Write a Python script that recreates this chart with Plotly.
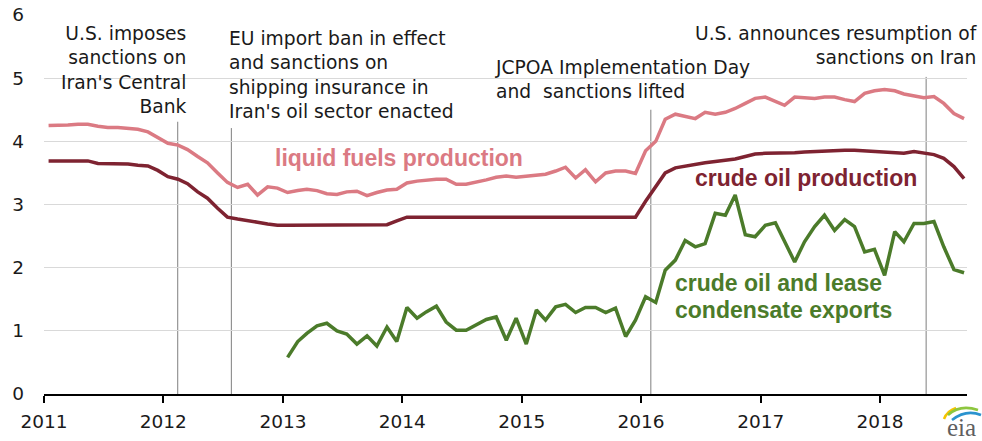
import plotly.graph_objects as go

# ---- data (million barrels per day), monthly Jan 2011 - Sep 2018 ----
year_ticks = [2011, 2012, 2013, 2014, 2015, 2016, 2017, 2018]

liquid_fuels = [
    4.25, 4.25, 4.26, 4.27, 4.27, 4.24, 4.22, 4.22, 4.21, 4.19, 4.15, 4.06,  # 2011
    3.97, 3.94, 3.87, 3.76, 3.66, 3.50, 3.35, 3.27, 3.32, 3.15, 3.28, 3.26,  # 2012
    3.19, 3.22, 3.24, 3.22, 3.17, 3.16, 3.20, 3.21, 3.14, 3.19, 3.23, 3.24,  # 2013
    3.34, 3.37, 3.39, 3.40, 3.40, 3.32, 3.32, 3.35, 3.39, 3.43, 3.45, 3.43,  # 2014
    3.45, 3.46, 3.48, 3.53, 3.59, 3.42, 3.55, 3.36, 3.50, 3.53, 3.53, 3.49,  # 2015
    3.85, 4.00, 4.35, 4.43, 4.39, 4.36, 4.46, 4.43, 4.46, 4.52, 4.60, 4.68,  # 2016
    4.70, 4.63, 4.57, 4.70, 4.69, 4.68, 4.70, 4.70, 4.66, 4.63, 4.76, 4.80,  # 2017
    4.82, 4.80, 4.75, 4.72, 4.69, 4.71, 4.60, 4.44, 4.36,                    # 2018
]

crude_production = [
    3.69, 3.69, 3.69, 3.69, 3.69, 3.65, 3.65, 3.65, 3.64, 3.62, 3.61, 3.54,  # 2011
    3.44, 3.40, 3.33, 3.20, 3.10, 2.94, 2.80, 2.77, 2.75, 2.72, 2.69, 2.67,  # 2012
    2.67, 2.67, 2.67, 2.67, 2.67, 2.67, 2.67, 2.67, 2.67, 2.67, 2.68, 2.74,  # 2013
    2.80, 2.80, 2.80, 2.80, 2.80, 2.80, 2.80, 2.80, 2.80, 2.80, 2.80, 2.80,  # 2014
    2.80, 2.80, 2.80, 2.80, 2.80, 2.80, 2.80, 2.80, 2.80, 2.80, 2.80, 2.80,  # 2015
    3.05, 3.28, 3.50, 3.58, 3.61, 3.63, 3.66, 3.68, 3.70, 3.72, 3.76, 3.80,  # 2016
    3.81, 3.81, 3.82, 3.82, 3.83, 3.84, 3.85, 3.85, 3.86, 3.86, 3.85, 3.85,  # 2017
    3.84, 3.83, 3.81, 3.84, 3.82, 3.79, 3.73, 3.60, 3.41,                    # 2018
]

# exports start in Jan 2013
crude_exports = [
    0.58, 0.83, 0.96, 1.08, 1.12, 1.00, 0.95, 0.79, 0.92, 0.76, 1.06, 0.83,  # 2013
    1.37, 1.20, 1.30, 1.39, 1.14, 1.01, 1.01, 1.10, 1.18, 1.22, 0.85, 1.20,  # 2014
    0.79, 1.33, 1.17, 1.38, 1.42, 1.29, 1.37, 1.37, 1.29, 1.36, 0.91, 1.17,  # 2015
    1.54, 1.45, 1.96, 2.12, 2.43, 2.33, 2.38, 2.86, 2.83, 3.15, 2.52, 2.49,  # 2016
    2.67, 2.71, 2.41, 2.09, 2.41, 2.65, 2.83, 2.59, 2.76, 2.65, 2.25, 2.29,  # 2017
    1.88, 2.57, 2.41, 2.70, 2.70, 2.73, 2.33, 1.97, 1.92,                    # 2018
]

months = [f"{2011 + i // 12}-{i % 12 + 1:02d}-15" for i in range(len(liquid_fuels))]
export_months = months[len(months) - len(crude_exports):]

# sanction / policy events
event_dates = ["2012-02-14", "2012-07-27", "2016-01-31", "2018-05-22"]
event_texts = [
    "U.S. imposes<br>sanctions on<br>Iran's Central<br>Bank",
    "EU import ban in effect<br>and sanctions on<br>shipping insurance in<br>Iran's oil sector enacted",
    "JCPOA Implementation Day<br>and\u00a0 sanctions lifted",
    "U.S. announces resumption of<br>sanctions on Iran",
]

# ---- styling ----
PINK = "#DB7A83"
MAROON = "#7E2331"
GREEN = "#4B7B2A"
REG_FONT = "DejaVu Sans"
BOLD_FONT = "Liberation Sans"

W, H = 982, 441
PL, PR, PT, PB = 44, 967, 15, 394  # plot area in pixels


def fx(p):
    return (p - PL) / (PR - PL)


def fy(p):
    return (PB - p) / (PB - PT)


fig = go.Figure()
fig.add_trace(go.Scatter(x=months, y=liquid_fuels, mode="lines",
                         line=dict(color=PINK, width=3.5), hoverinfo="skip"))
fig.add_trace(go.Scatter(x=months, y=crude_production, mode="lines",
                         line=dict(color=MAROON, width=3.5), hoverinfo="skip"))
fig.add_trace(go.Scatter(x=export_months, y=crude_exports, mode="lines",
                         line=dict(color=GREEN, width=3.5), hoverinfo="skip"))

# vertical event markers
marker_tops = [4.31, 4.21, 4.50, 5.02]
shapes = []
for d, top in zip(event_dates, marker_tops):
    shapes.append(dict(type="line", xref="x", yref="y", x0=d, x1=d, y0=0, y1=top,
                       line=dict(color="#7f7f7f", width=1), layer="below"))

# eia logo swooshes
def swoosh(pts, color):
    (x0, y0), (cx, cy), (x1, y1) = pts
    path = f"M {fx(x0)} {fy(y0)} Q {fx(cx)} {fy(cy)} {fx(x1)} {fy(y1)}"
    return dict(type="path", xref="paper", yref="paper", path=path,
                line=dict(color=color, width=2.5))

shapes += [
    swoosh([(944, 419), (947, 411), (956, 408)], "#F4C400"),
    swoosh([(948, 415), (960, 404), (978, 410)], "#8DC63F"),
    swoosh([(952, 420), (966, 409), (981, 415)], "#2A93CF"),
]

ann_font = dict(family=REG_FONT, size=18.7, color="#1a1a1a")
annotations = [
    dict(text=event_texts[0], x=fx(189), y=fy(69.5), xanchor="right", yanchor="middle", align="right"),
    dict(text=event_texts[1], x=fx(227), y=fy(74.5), xanchor="left", yanchor="middle", align="left"),
    dict(text=event_texts[2], x=fx(493), y=fy(79.5), xanchor="left", yanchor="middle", align="left"),
    dict(text=event_texts[3], x=fx(979), y=fy(45), xanchor="right", yanchor="middle", align="right"),
]
for a in annotations:
    a.update(xref="paper", yref="paper", showarrow=False, font=ann_font)

label_font = dict(family=BOLD_FONT, size=23)
annotations += [
    dict(text="<b>liquid fuels production</b>", x=fx(273), y=fy(158), xanchor="left",
         font=dict(label_font, color=PINK)),
    dict(text="<b>crude oil production</b>", x=fx(693), y=fy(178), xanchor="left",
         font=dict(label_font, color=MAROON)),
    dict(text="<b>crude oil and lease</b>", x=fx(673), y=fy(283), xanchor="left",
         font=dict(label_font, color=GREEN)),
    dict(text="<b>condensate exports</b>", x=fx(673), y=fy(310), xanchor="left",
         font=dict(label_font, color=GREEN)),
    dict(text="eia", x=fx(961), y=fy(427), xanchor="center",
         font=dict(family="Liberation Serif", size=25, color="#5f5f5f")),
]
for a in annotations[4:]:
    a.update(xref="paper", yref="paper", yanchor="middle", showarrow=False)

fig.update_layout(
    width=W, height=H,
    margin=dict(l=PL, r=W - PR, t=PT, b=H - PB, pad=0),
    paper_bgcolor="white", plot_bgcolor="white",
    showlegend=False,
    shapes=shapes,
    annotations=annotations,
    xaxis=dict(
        type="date",
        range=["2011-01-01", "2018-09-24"],
        tickvals=[f"{y}-01-01" for y in year_ticks],
        ticktext=[str(y) for y in year_ticks],
        showgrid=False, zeroline=False,
        showline=True, linecolor="#000000", linewidth=1.5,
        ticks="outside", ticklen=7, tickcolor="#000000", tickwidth=1.5,
        ticklabelstandoff=3,
        tickfont=dict(family=REG_FONT, size=18.5, color="#1a1a1a"),
        automargin=False,
        fixedrange=True,
    ),
    yaxis=dict(
        range=[0, 6], tickvals=[0, 1, 2, 3, 4, 5, 6],
        showgrid=True, gridcolor="#d9d9d9", gridwidth=1,
        zeroline=False, showline=False, ticks="",
        ticklabelstandoff=19,
        tickfont=dict(family=REG_FONT, size=18.5, color="#1a1a1a"),
        automargin=False,
        fixedrange=True,
    ),
)

fig.write_html("out.html")
